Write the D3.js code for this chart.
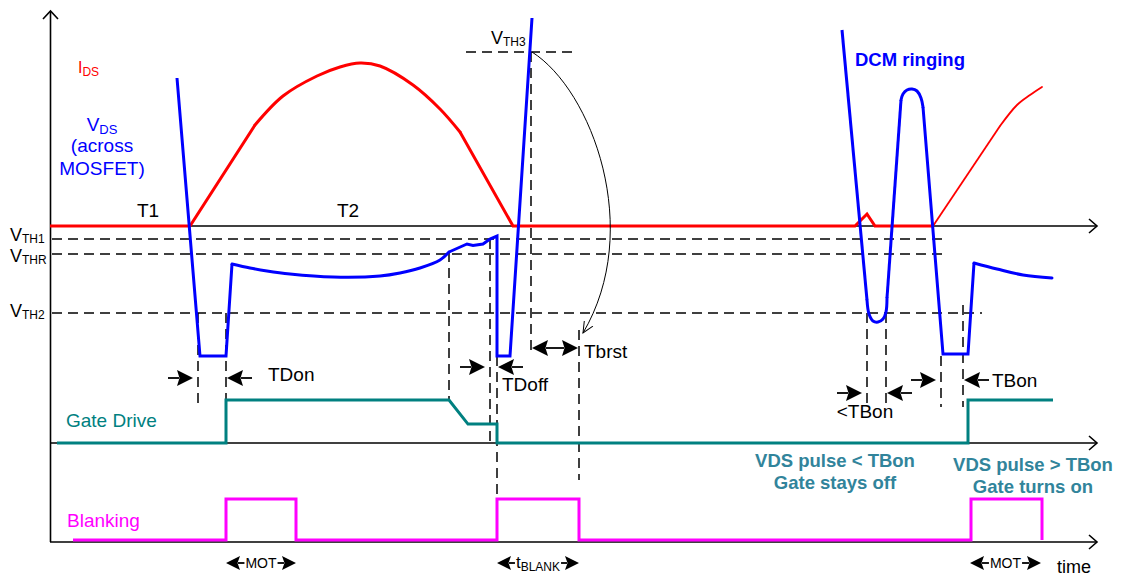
<!DOCTYPE html>
<html>
<head>
<meta charset="utf-8">
<script src="https://cdn.jsdelivr.net/npm/d3@7"></script>
<style>
  body { margin: 0; background: #fff; }
  text { font-family: "Liberation Sans", Arial, sans-serif; }
</style>
</head>
<body>
<div id="chart"></div>
<script>
// time runs along x (arbitrary units), values are in panel units
// VDS and IDS share the top panel, gate and blanking are 0..1 logic levels
// each trace is split in straight pieces and smooth pieces

const vdsDrop = [[127,148],[150,-130],[176,-130],[182,-38]];
const vdsRecover = [[182,-38],[200,-42],[217,-45],[240,-48],[283,-51],[330,-50],[350,-47],[370,-42],[390,-34],[399,-26]];
const vdsTurnOff = [[399,-26],[417,-18],[423,-19.5],[433,-18],[440,-13],[447,-10],[447,-130],[460,-130],[482,208]];
const vdsRingDown = [[792,196],[817,-74]];
const vdsRingDip = [[817,-74],[819,-88],[823,-95],[828,-96],[833,-93],[836,-86],[837,-72]];
const vdsRingUp = [[837,-72],[851,126]];
const vdsRingPeak = [[851,126],[853,132],[857,136],[862,137],[867,135],[871,128],[873,119]];
const vdsNextPulse = [[873,119],[893,-128],[918,-128],[924,-37]];
const vdsNextDecay = [[924,-37],[947,-43],[973,-49],[1002,-52]];

const idsRise = [[0,0],[140,0],[205,101]];
const idsArc = [[205,101],[233,130],[267,150],[290,159],[310,163],[330,160],[363,141],[390,117],[410,94]];
const idsFall = [[410,94],[463,0],[805,0],[817,12],[825,0],[883,0]];
const idsNext = [[883,0],[950,100]];
const idsNextArc = [[950,100],[967,121],[980,131],[992,139]];

const gateDrive = [[7,0],[176,0],[176,1],[399,1],[418,0.44],[447,0.44],[447,0],[918,0],[918,1],[1003,1]];
const blanking = [[23,0],[176,0],[176,1],[246,1],[246,0],[447,0],[447,1],[529,1],[529,0],[921,0],[921,1],[992,1],[992,0]];

// threshold levels: [name, value, start, end]
const thresholds = [["TH1",-13,0,893],["THR",-28,0,893],["TH2",-87,0,932],["TH3",174,414,524]];
// vertical dashed markers: [time, from, to]
const markers = [[148,-87,-179],[176,-87,-174],[399,-26,-174],[440,-13,-217],[447,-130,-273],
  [481,174,-124],[529,-104,-254],[817,-87,-181],[836,-87,-181],[891,-130,-181],[913,-79,-181]];

const W = 1121, H = 578;
const svg = d3.select("#chart").append("svg")
  .attr("width", W).attr("height", H);

const x = d3.scaleLinear().domain([0, 1047]).range([50, 1097]);
const yTop = d3.scaleLinear().domain([0, 214]).range([226, 12]);
const yGate = d3.scaleLinear().domain([0, 1]).range([443, 400]);
const yBlank = d3.scaleLinear().domain([0, 1]).range([540, 499]);

const BLUE = "#0000ff", RED = "#ff0000", TEAL = "#008080", MAG = "#ff00ff", NOTE = "#31849b";

// open arrowhead for the curved arrow
svg.append("defs").append("marker").attr("id", "open")
  .attr("viewBox", "0 0 12 12").attr("refX", 11).attr("refY", 6)
  .attr("markerWidth", 12).attr("markerHeight", 12).attr("markerUnits", "userSpaceOnUse")
  .attr("orient", "auto")
  .append("path").attr("d", "M0,1 L11,6 L0,11").attr("fill", "none").attr("stroke", "#000").attr("stroke-width", 1);

// axes
const axisG = svg.append("g").attr("stroke", "#000").attr("stroke-width", 1.6).attr("fill", "none");
axisG.append("line").attr("x1", 50.5).attr("x2", 50.5).attr("y1", 12).attr("y2", 542);
axisG.append("path").attr("d", `M43,19 L50.5,11 L58,19`);
[yTop(0), yGate(0), 542].forEach(yy => {
  axisG.append("line").attr("x1", 50).attr("x2", x(1047)).attr("y1", yy).attr("y2", yy);
  axisG.append("path").attr("d", `M${x(1047) - 8},${yy - 7} L${x(1047)},${yy} L${x(1047) - 8},${yy + 7}`);
});

// threshold lines
const dash = svg.append("g").attr("stroke", "#000").attr("stroke-width", 1.5)
  .attr("stroke-dasharray", "10,6").attr("fill", "none");
thresholds.forEach(d => {
  dash.append("line").attr("x1", x(d[2]) + 2).attr("x2", x(d[3]))
    .attr("y1", yTop(d[1])).attr("y2", yTop(d[1]));
});
markers.forEach(d => {
  dash.append("line").attr("x1", x(d[0])).attr("x2", x(d[0]))
    .attr("y1", yTop(d[1])).attr("y2", yTop(d[2]));
});

// threshold labels
function vLabel(xx, yy, sub) {
  const t = svg.append("text").attr("x", xx).attr("y", yy).attr("font-size", 18).attr("fill", "#000");
  t.append("tspan").text("V");
  t.append("tspan").attr("font-size", 12).attr("dy", 2).text(sub);
}
vLabel(10, yTop(-13) + 2, "TH1");
vLabel(10, yTop(-28) + 8, "THR");
vLabel(10, yTop(-87) + 4, "TH2");
vLabel(491, yTop(174) - 8, "TH3");

// signals
function trace(data, yScale, color, width, smooth) {
  const line = d3.line()
    .x(d => x(d[0])).y(d => yScale(d[1]))
    .curve(smooth ? d3.curveCatmullRom.alpha(0.5) : d3.curveLinear);
  svg.append("path").datum(data)
    .attr("d", line)
    .attr("fill", "none").attr("stroke", color)
    .attr("stroke-width", width).attr("stroke-linejoin", "miter")
    .attr("stroke-linecap", smooth ? "round" : "butt");
}
trace(idsRise, yTop, RED, 3);
trace(idsArc, yTop, RED, 3, true);
trace(idsFall, yTop, RED, 3);
trace(idsNext, yTop, RED, 1.8);
trace(idsNextArc, yTop, RED, 1.8, true);
trace(gateDrive, yGate, TEAL, 3);
trace(blanking, yBlank, MAG, 3);
trace(vdsDrop, yTop, BLUE, 3);
trace(vdsRecover, yTop, BLUE, 3, true);
trace(vdsTurnOff, yTop, BLUE, 3);
trace(vdsRingDown, yTop, BLUE, 3);
trace(vdsRingDip, yTop, BLUE, 3, true);
trace(vdsRingUp, yTop, BLUE, 3);
trace(vdsRingPeak, yTop, BLUE, 3, true);
trace(vdsNextPulse, yTop, BLUE, 3);
trace(vdsNextDecay, yTop, BLUE, 3, true);

// curved arrow from VTH3 crossing to Tbrst marker
svg.append("path")
  .attr("d", `M${x(482)},${yTop(174)} C${x(542)},90 ${x(594)},230 ${x(533)},333`)
  .attr("fill", "none").attr("stroke", "#000").attr("stroke-width", 1)
  .attr("marker-end", "url(#open)");

// horizontal arrow with a filled, notched head at "to"
function arrow(from, to, yy, size) {
  const s = size || 16, dir = to > from ? 1 : -1;
  const base = to - dir * s;
  svg.append("line").attr("x1", from).attr("x2", base + dir * 2).attr("y1", yy).attr("y2", yy)
    .attr("stroke", "#000").attr("stroke-width", 1.8);
  svg.append("path")
    .attr("d", `M${to},${yy} L${base},${yy - s / 2} L${base + dir * 2.5},${yy} L${base},${yy + s / 2} Z`)
    .attr("fill", "#000");
}
function inward(tLeft, tRight, yy) {
  arrow(x(tLeft) - 30, x(tLeft) - 5, yy);
  arrow(x(tRight) + 26, x(tRight) + 1, yy);
}
inward(148, 176, 378);
inward(440, 447, 367);
inward(817, 836, 393);
inward(891, 913, 380);
arrow(x(505), x(482), 348);
arrow(x(505), x(528), 348);

function text(xx, yy, str, opts) {
  opts = opts || {};
  return svg.append("text").attr("x", xx).attr("y", yy)
    .attr("font-size", opts.size || 19)
    .attr("font-weight", opts.bold ? "bold" : null)
    .attr("text-anchor", opts.anchor || "start")
    .attr("fill", opts.color || "#000")
    .text(str);
}

// spans under the blanking trace
function span(t1, t2, yy, build) {
  const lbl = svg.append("text").attr("y", yy + 5).attr("font-size", 14)
    .attr("text-anchor", "middle").attr("x", (x(t1) + x(t2)) / 2);
  build(lbl);
  const w = lbl.node().getComputedTextLength();
  const mid = (x(t1) + x(t2)) / 2;
  arrow(mid - w / 2 - 1, x(t1), yy, 14);
  arrow(mid + w / 2 + 1, x(t2), yy, 14);
}
span(176, 246, 563, l => l.text("MOT"));
span(920, 991, 563, l => l.text("MOT"));
span(447, 529, 563, l => {
  l.append("tspan").attr("font-size", 17).text("t");
  l.append("tspan").attr("font-size", 12).attr("dy", 3).text("BLANK");
});

// labels
const ids = text(78, 73, "I", { size: 16, color: RED });
ids.append("tspan").attr("font-size", 12).attr("dy", 3).text("DS");
const vds = text(102, 131, "V", { color: BLUE, anchor: "middle" });
vds.append("tspan").attr("font-size", 13).attr("dy", 3).text("DS");
text(102, 152, "(across", { color: BLUE, anchor: "middle" });
text(102, 175, "MOSFET)", { color: BLUE, anchor: "middle" });
text(148, 217, "T1", { anchor: "middle" });
text(348, 217, "T2", { anchor: "middle" });
text(855, 66, "DCM ringing", { color: BLUE, bold: true, size: 18.5 });
text(268, 381, "TDon");
text(502, 391, "TDoff");
text(584, 358, "Tbrst");
text(865, 418, "<TBon", { anchor: "middle" });
text(992, 387, "TBon");
text(66, 427, "Gate Drive", { color: TEAL });
text(67, 527, "Blanking", { color: MAG });
text(835, 467, "VDS pulse < TBon", { color: NOTE, bold: true, size: 18.5, anchor: "middle" });
text(835, 489, "Gate stays off", { color: NOTE, bold: true, size: 18.5, anchor: "middle" });
text(1033, 471, "VDS pulse > TBon", { color: NOTE, bold: true, size: 18.5, anchor: "middle" });
text(1033, 493, "Gate turns on", { color: NOTE, bold: true, size: 18.5, anchor: "middle" });
text(1057, 573, "time", { size: 18 });
</script>
</body>
</html>
